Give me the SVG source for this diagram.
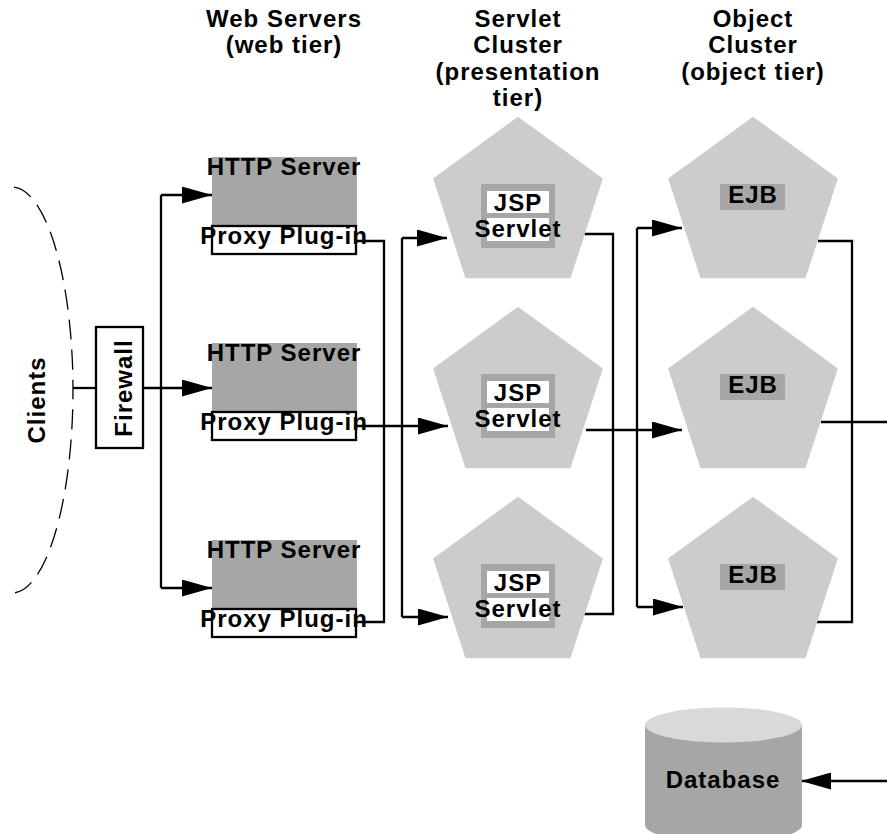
<svg xmlns="http://www.w3.org/2000/svg" width="887" height="834" viewBox="0 0 887 834">
<style>
.t{font-family:"Liberation Sans",Arial,Helvetica,sans-serif;font-weight:bold;font-size:24px;letter-spacing:1px;fill:#000;text-anchor:middle}
.ln{fill:none;stroke:#000;stroke-width:2.3}
.ar{marker-end:url(#ah)}
.pent{fill:#cccccc}
.dk{fill:#a6a6a6}
.wh{fill:#fff}
.box{fill:#fff;stroke:#000;stroke-width:2.3}
</style>
<defs>
<marker id="ah" markerUnits="userSpaceOnUse" markerWidth="30" markerHeight="17" refX="30" refY="8.5" orient="auto"><path d="M0,0 L30,8.5 L0,17 z" fill="#000"/></marker>
<polygon id="pg" points="0,-89.3 84.9,-27.6 52.5,72.3 -52.5,72.3 -84.9,-27.6"/>
</defs>

<g id="titles">
<text class="t" x="284" y="26.5">Web Servers</text>
<text class="t" x="284" y="53">(web tier)</text>
<text class="t" x="518" y="26.5">Servlet</text>
<text class="t" x="518" y="53">Cluster</text>
<text class="t" x="518" y="79.5">(presentation</text>
<text class="t" x="518" y="106">tier)</text>
<text class="t" x="753" y="26.5">Object</text>
<text class="t" x="753" y="53">Cluster</text>
<text class="t" x="753" y="79.5">(object tier)</text>
</g>

<g id="connectors">
<path class="ln" d="M73,388 H96"/>
<path class="ln ar" d="M143,388 H212"/>
<path class="ln" d="M161,195 V588"/>
<path class="ln ar" d="M161,195 H212"/>
<path class="ln ar" d="M161,588 H212"/>
<path class="ln" d="M356,241 H384 V622 H356"/>
<path class="ln ar" d="M356,426 H448"/>
<path class="ln" d="M402,238 V617"/>
<path class="ln ar" d="M402,238 H447"/>
<path class="ln ar" d="M402,617 H448"/>
<path class="ln" d="M583,234 H613 V614 H583"/>
<path class="ln ar" d="M586,430 H682"/>
<path class="ln" d="M637,228 V607"/>
<path class="ln ar" d="M637,228 H682"/>
<path class="ln ar" d="M637,607 H683"/>
<path class="ln" d="M818,241 H852 V622 H817"/>
<path class="ln" d="M821,422 H887"/>
<path class="ln ar" d="M887,781 H801"/>
</g>

<g id="clients">
<path d="M12,187 A61,203 0 0 1 12,593" fill="none" stroke="#000" stroke-width="1.3" stroke-dasharray="20 10" stroke-dashoffset="28"/>
<text class="t" transform="translate(45,400) rotate(-90)">Clients</text>
</g>

<g id="firewall">
<rect class="box" x="96" y="327" width="47" height="121" stroke-width="2.6"/>
<text class="t" transform="translate(132,388) rotate(-90)">Firewall</text>
</g>

<g id="web1">
<rect class="dk" x="212" y="157" width="145" height="69"/>
<rect class="box" x="212" y="226" width="144" height="28"/>
<text class="t" x="284" y="175">HTTP Server</text>
<text class="t" x="284" y="244">Proxy Plug-in</text>
</g>
<g id="web2">
<rect class="dk" x="212" y="343" width="145" height="69"/>
<rect class="box" x="212" y="412" width="144" height="28"/>
<text class="t" x="284" y="361">HTTP Server</text>
<text class="t" x="284" y="430">Proxy Plug-in</text>
</g>
<g id="web3">
<rect class="dk" x="212" y="540" width="145" height="69"/>
<rect class="box" x="212" y="609" width="144" height="28"/>
<text class="t" x="284" y="558">HTTP Server</text>
<text class="t" x="284" y="627">Proxy Plug-in</text>
</g>

<g id="jsp1">
<use href="#pg" class="pent" x="518" y="206"/>
<rect class="dk" x="481" y="184" width="74" height="64"/>
<rect class="wh" x="487" y="191" width="62" height="22"/>
<rect class="wh" x="487" y="218" width="62" height="23"/>
<text class="t" x="518" y="211">JSP</text>
<text class="t" x="518" y="237">Servlet</text>
</g>
<g id="jsp2">
<use href="#pg" class="pent" x="518" y="396"/>
<rect class="dk" x="481" y="374" width="74" height="64"/>
<rect class="wh" x="487" y="381" width="62" height="22"/>
<rect class="wh" x="487" y="408" width="62" height="23"/>
<text class="t" x="518" y="401">JSP</text>
<text class="t" x="518" y="427">Servlet</text>
</g>
<g id="jsp3">
<use href="#pg" class="pent" x="518" y="586"/>
<rect class="dk" x="481" y="564" width="74" height="64"/>
<rect class="wh" x="487" y="571" width="62" height="22"/>
<rect class="wh" x="487" y="598" width="62" height="23"/>
<text class="t" x="518" y="591">JSP</text>
<text class="t" x="518" y="617">Servlet</text>
</g>

<g id="ejb1">
<use href="#pg" class="pent" x="753" y="206"/>
<rect class="dk" x="720" y="184" width="65" height="26"/>
<text class="t" x="753" y="203">EJB</text>
</g>
<g id="ejb2">
<use href="#pg" class="pent" x="753" y="396"/>
<rect class="dk" x="720" y="374" width="65" height="26"/>
<text class="t" x="753" y="393">EJB</text>
</g>
<g id="ejb3">
<use href="#pg" class="pent" x="753" y="586"/>
<rect class="dk" x="720" y="564" width="65" height="26"/>
<text class="t" x="753" y="583">EJB</text>
</g>

<g id="database">
<path d="M645,725 V825 A78.5,17.5 0 0 0 802,825 V725 Z" fill="#a6a6a6"/>
<ellipse cx="723.5" cy="725" rx="78.5" ry="17.5" fill="#d9d9d9"/>
<text class="t" x="723" y="788">Database</text>
</g>
</svg>
